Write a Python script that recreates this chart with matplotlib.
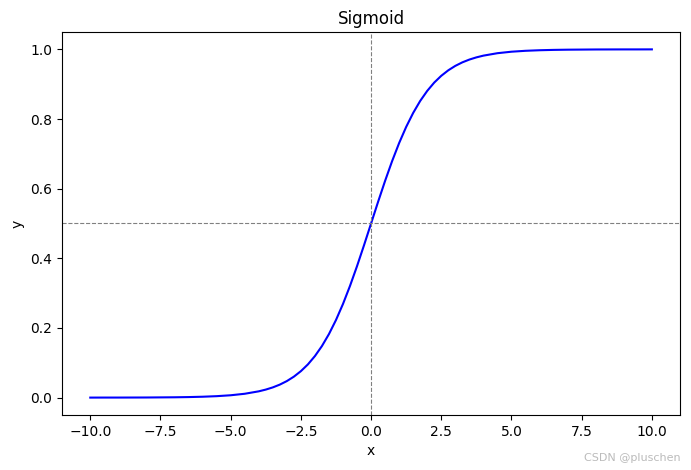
import matplotlib
matplotlib.use("Agg")
import matplotlib.pyplot as plt

x = [-10, -9.5, -9, -8.5, -8, -7.5, -7, -6.5, -6, -5.5, -5, -4.5, -4, -3.75, -3.5, -3.25, -3, -2.75, -2.5, -2.25,
     -2, -1.75, -1.5, -1.25, -1, -0.75, -0.5, -0.25, 0, 0.25, 0.5, 0.75, 1, 1.25, 1.5, 1.75, 2,
     2.25, 2.5, 2.75, 3, 3.25, 3.5, 3.75, 4, 4.5, 5, 5.5, 6, 6.5, 7, 7.5, 8, 8.5, 9, 9.5, 10]
y = [0.0000, 0.0001, 0.0001, 0.0002, 0.0003, 0.0006, 0.0009, 0.0015, 0.0025, 0.0041, 0.0067, 0.0110, 0.0180,
     0.0230, 0.0293, 0.0373, 0.0474, 0.0601, 0.0759, 0.0953, 0.1192, 0.1480, 0.1824, 0.2227, 0.2689, 0.3208,
     0.3775, 0.4378, 0.5000, 0.5622, 0.6225, 0.6792, 0.7311, 0.7773, 0.8176, 0.8520, 0.8808, 0.9047, 0.9241,
     0.9399, 0.9526, 0.9627, 0.9707, 0.9770, 0.9820, 0.9890, 0.9933, 0.9959, 0.9975, 0.9985, 0.9991, 0.9994,
     0.9997, 0.9998, 0.9999, 0.9999, 1.0000]

fig = plt.figure(figsize=(6.91, 4.70), dpi=100)
ax = fig.add_axes([0.09, 0.117, 0.894, 0.815])
ax.plot(x, y, color="blue", linewidth=1.5)
ax.axhline(0.5, color="gray", linestyle="--", linewidth=0.8)
ax.axvline(0, color="gray", linestyle="--", linewidth=0.8)
ax.set_title("Sigmoid")
ax.set_xlabel("x")
ax.set_ylabel("y")
fig.text(0.985, 0.015, "CSDN @pluschen", ha="right", va="bottom", color="#bbbbbb", fontsize=8)
fig.savefig("out.png", dpi=100)
